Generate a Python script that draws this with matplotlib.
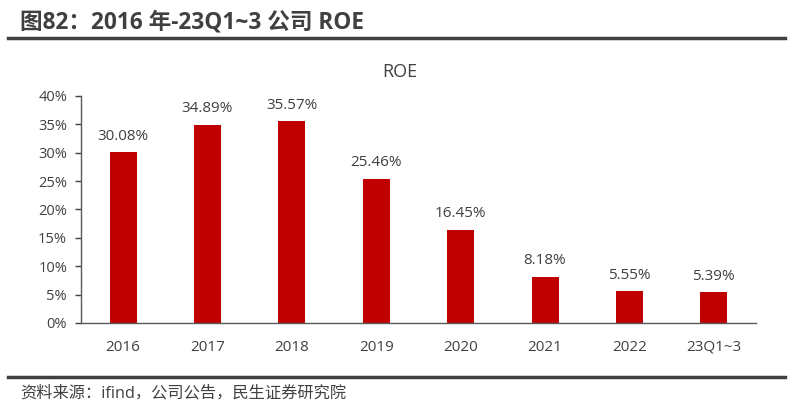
import matplotlib
matplotlib.use("Agg")
import matplotlib.pyplot as plt
from matplotlib.ticker import FuncFormatter

plt.rcParams['font.family'] = ['Open Sans', 'Noto Sans CJK SC', 'DejaVu Sans']

categories = ['2016', '2017', '2018', '2019', '2020', '2021', '2022', '23Q1~3']
roe = [30.08, 34.89, 35.57, 25.46, 16.45, 8.18, 5.55, 5.39]
yticks = [0, 5, 10, 15, 20, 25, 30, 35, 40]

fig = plt.figure(figsize=(8.1, 4.15), dpi=100)
ax = fig.add_axes([0.1, 0.2217, 0.8333, 0.547])

x = range(len(categories))
ax.bar(x, roe, width=0.32, color='#C00000')
for xi, v in zip(x, roe):
    ax.text(xi, v + 1.5, f'{v:.2f}%', ha='center', va='bottom', fontsize=11, color='#404040')

ax.set_xlim(-0.5, len(categories) - 0.5)
ax.set_ylim(0, 40)
ax.set_yticks(yticks)
ax.yaxis.set_major_formatter(FuncFormatter(lambda v, p: f'{v:.0f}%'))
ax.set_xticks(list(x))
ax.set_xticklabels(categories)
ax.tick_params(axis='x', length=0, pad=12, labelsize=11, colors='#404040')
ax.tick_params(axis='y', length=4, width=1, labelsize=10.5, colors='#404040', pad=6)
for s in ['top', 'right']:
    ax.spines[s].set_visible(False)
for s in ['left', 'bottom']:
    ax.spines[s].set_color('#595959')
    ax.spines[s].set_linewidth(1)

fig.text(400/810, 1 - 72/415, 'ROE', ha='center', va='center', fontsize=13, color='#404040')

fig.text(20/810, 1 - 22/415, '图82：2016 年-23Q1~3 公司 ROE', ha='left', va='center',
         fontsize=16.3, fontweight='bold', color='#404040')
fig.add_artist(plt.Line2D([8/810, 785/810], [1 - 38/415, 1 - 38/415], color='#404040', lw=2.5))
fig.add_artist(plt.Line2D([8/810, 785/810], [1 - 377/415, 1 - 377/415], color='#404040', lw=2.5))
fig.text(20/810, 1 - 393/415, '资料来源：ifind，公司公告，民生证券研究院', ha='left', va='center',
         fontsize=11.7, color='#404040')

fig.savefig('out.png', dpi=100)
